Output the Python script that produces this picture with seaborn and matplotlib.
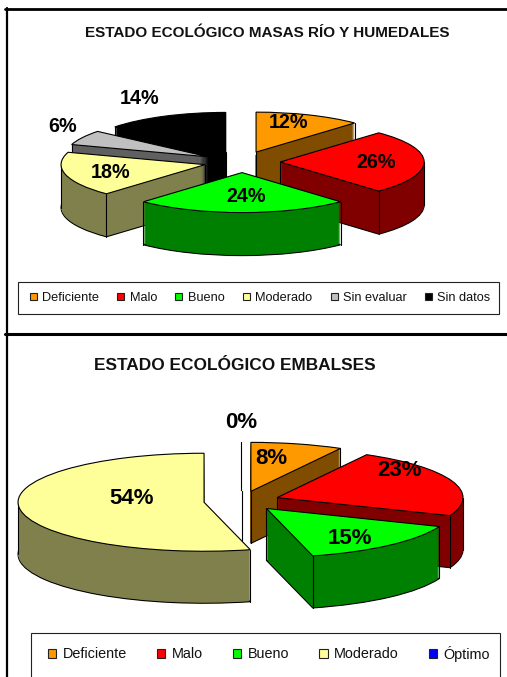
import numpy as np
import matplotlib
matplotlib.use('Agg')
import matplotlib.pyplot as plt
from matplotlib.patches import Patch, Rectangle
from matplotlib.lines import Line2D
import seaborn as sns

# --- datos ---
cats_rios = ['Deficiente', 'Malo', 'Bueno', 'Moderado', 'Sin evaluar', 'Sin datos']
vals_rios = [12, 26, 24, 18, 6, 14]
cols_rios = ['#FF9900', '#FF0000', '#00FF00', '#FFFF99', '#C0C0C0', '#000000']

cats_emb = ['Deficiente', 'Malo', 'Bueno', 'Moderado', 'Óptimo']
vals_emb = [8, 23, 15, 54, 0]
cols_emb = ['#FF9900', '#FF0000', '#00FF00', '#FFFF99', '#0000FF']

W, H = 507, 677

sns.set_theme(style='white')
plt.rcParams['font.family'] = ['Liberation Sans', 'DejaVu Sans']

fig = plt.figure(figsize=(W / 100, H / 100), dpi=100, facecolor='white')


def fx(x):
    return x / W


def fy(y):
    return 1 - y / H


def pie3d(vals, cols, cx, cy, rx, ry, depth, explode, order):
    """Tarta 'falsa 3D': se aplasta el eje y se apilan copias oscuras."""
    sx, sy = 1.66, 2.6
    ax = fig.add_axes([fx(cx - sx * rx), fy(cy + sy * ry), 2 * sx * rx / W, 2 * sy * ry / H])
    pal = sns.color_palette(cols)
    dark = [tuple(c * 0.5 for c in p) for p in pal]
    exp = [explode] * len(vals)
    d = depth / ry
    rank = {i: r for r, i in enumerate(order)}

    # paredes, de abajo hacia arriba
    for k in range(depth, 0, -1):
        wedges, _ = ax.pie(vals, colors=dark, explode=exp, startangle=90, counterclock=False,
                           center=(0, -k / ry), wedgeprops={'linewidth': 0})
        for i, w in enumerate(wedges):
            w.set_zorder(rank[i] * 10 + 1 + (depth - k) / depth)
            if k == depth and vals[i] > 0:
                w.set_edgecolor('black')
                w.set_linewidth(0.8)

    # cara superior
    tops, _ = ax.pie(vals, colors=pal, explode=exp, startangle=90, counterclock=False,
                     wedgeprops={'linewidth': 0.8, 'edgecolor': 'black'})
    for i, w in enumerate(tops):
        w.set_zorder(rank[i] * 10 + 4)
        x0, y0 = w.center
        t1, t2 = np.radians(w.theta1), np.radians(w.theta2)
        face1 = np.cos(t1) > 1e-6   # cara radial visible en cada extremo
        face2 = np.cos(t2) < -1e-6
        pts = []
        if face1 or face2 or vals[i] == 0:
            pts.append((x0, y0))
        if vals[i] > 0:
            if face1 or np.sin(t1) < 0:
                pts.append((x0 + np.cos(t1), y0 + np.sin(t1)))
            if face2 or np.sin(t2) < 0:
                pts.append((x0 + np.cos(t2), y0 + np.sin(t2)))
            for a in (-360, -180, 0, 180, 360):
                if w.theta1 <= a <= w.theta2:
                    pts.append((x0 + np.cos(np.radians(a)), y0))
        for px, py in pts:
            ax.plot([px, px], [py, py - d], color='black', lw=0.8, zorder=rank[i] * 10 + 3)

    ax.set_aspect('auto')
    ax.set_xlim(-sx, sx)
    ax.set_ylim(-sy, sy)
    ax.patch.set_alpha(0)
    return ax


def leyenda(cats, cols, x, y, caja, fs, hl, colsp, tpad):
    x0, y0, x1, y1 = caja
    fig.add_artist(Rectangle((fx(x0), fy(y1)), (x1 - x0) / W, (y1 - y0) / H, transform=fig.transFigure,
                             facecolor='white', edgecolor='#222222', linewidth=0.8))
    handles = [Patch(facecolor=c, edgecolor='#222222', linewidth=0.8) for c in cols]
    fig.legend(handles, cats, ncol=len(cats), loc='center', bbox_to_anchor=(fx(x), fy(y)),
               fontsize=fs, frameon=False, handlelength=hl, handleheight=hl, handletextpad=tpad,
               columnspacing=colsp, borderpad=0, borderaxespad=0, labelcolor='#111111')


def etiquetas(vals, pos, fs):
    for v, (x, y) in zip(vals, pos):
        fig.text(fx(x), fy(y), f'{v}%', fontsize=fs, fontweight='bold', color='black',
                 ha='center', va='center')


# grafico 1
pie3d(vals_rios, cols_rios, 242, 162, 144, 40, 43, 0.265, [5, 0, 4, 1, 3, 2])
etiquetas(vals_rios, [(288, 122), (376, 162), (246, 196), (111, 172), (63, 127), (140, 98)], 14.2)
fig.text(fx(267), fy(33), 'ESTADO ECOLÓGICO MASAS RÍO Y HUMEDALES', fontsize=11, fontweight='bold',
         color='#111111', ha='center', va='center')
leyenda(cats_rios, cols_rios, 260, 298, (18, 282, 499, 314), 9.2, 0.55, 1.45, 0.4)

# grafico 2
pie3d(vals_emb, cols_emb, 241.5, 501, 186, 49, 52, 0.203, [4, 0, 1, 3, 2])
etiquetas(vals_emb, [(271, 459), (399, 471), (350, 538), (132, 499), (241, 422)], 16)
fig.text(fx(235), fy(366), 'ESTADO ECOLÓGICO EMBALSES', fontsize=12.4, fontweight='bold',
         color='#111111', ha='center', va='center')
leyenda(cats_emb, cols_emb, 269, 653.5, (31, 633, 500, 680), 10.4, 0.6, 2.05, 0.45)

# marcos negros
for xs, ys, lw in [((6.5, 6.5), (8, 677), 1.6), ((5, 507), (9, 9), 2.0), ((5, 507), (334, 334), 2.2)]:
    fig.add_artist(Line2D([fx(xs[0]), fx(xs[1])], [fy(ys[0]), fy(ys[1])], color='black', lw=lw))

fig.savefig('out.png', dpi=100)
